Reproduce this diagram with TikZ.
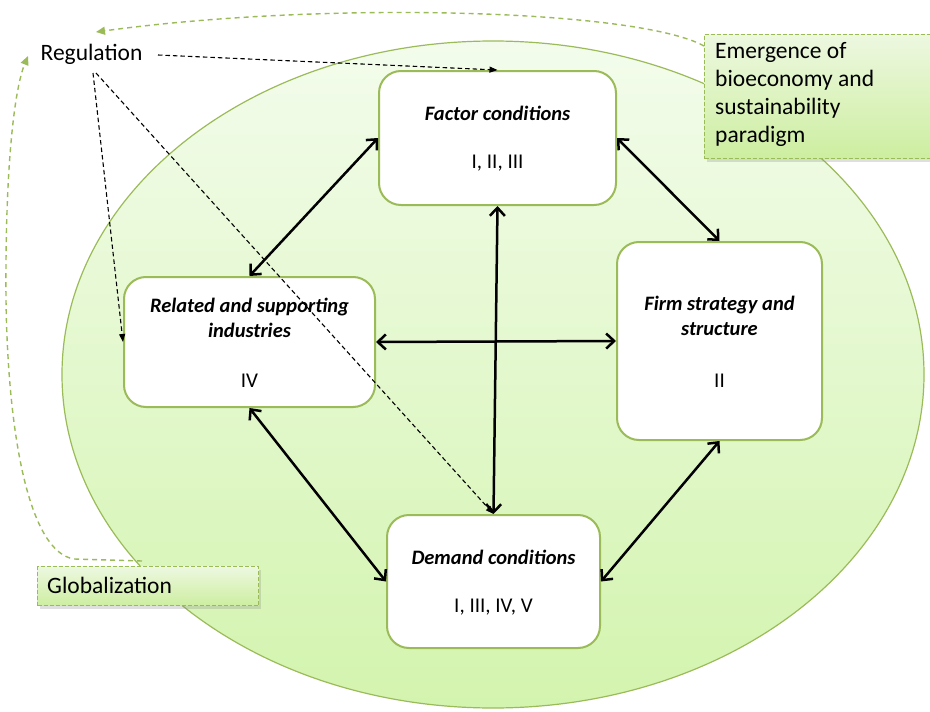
\documentclass[tikz,border=0pt]{standalone}
\usepackage{fontspec}
\setmainfont{Carlito}
\usetikzlibrary{arrows.meta,calc,shadows}
\definecolor{leaf}{HTML}{9BBB59}
\definecolor{palegreen}{HTML}{F3FCEC}
\definecolor{softgreen}{HTML}{D3F4AE}
\definecolor{notetop}{HTML}{EDF8E0}
\definecolor{notebot}{HTML}{CDEEA0}
\tikzset{
  factorbox/.style={draw=leaf, line width=2pt, fill=white, rounded corners=22pt, inner sep=0pt},
  boxtitle/.style={font=\fontsize{20.5}{25}\selectfont\bfseries\itshape, align=center, inner sep=0pt},
  boxnum/.style={font=\fontsize{21}{25}\selectfont, inner sep=0pt},
  notebox/.style={draw=leaf, line width=1pt, dash pattern=on 4pt off 2pt, top color=notetop, bottom color=notebot,
                  drop shadow={shadow xshift=2pt, shadow yshift=-3pt, opacity=0.25}},
  notetext/.style={font=\fontsize{23.5}{28}\selectfont, align=left, inner sep=0pt},
  link/.style={line width=2.5pt, {Straight Barb[length=8pt,width=15pt,line width=2.5pt]}-{Straight Barb[length=8pt,width=15pt,line width=2.5pt]}},
  rule/.style={line width=1.1pt, dash pattern=on 4.5pt off 3pt, -{Triangle[length=8pt,width=6pt]}},
  trend/.style={leaf, line width=1.4pt, dash pattern=on 5pt off 4pt, -{Triangle[length=9pt,width=8pt]}},
}
\begin{document}
\begin{tikzpicture}[x=1pt,y=-1pt]
\useasboundingbox (0,0) rectangle (930,712);
\clip (0,0) rectangle (930,712);

% outer field of influence
\path[draw=leaf, line width=1.2pt, top color=palegreen, bottom color=softgreen]
  (493,374.5) ellipse [x radius=431pt, y radius=333.5pt];

% the four determinants
\node[factorbox, minimum width=237pt, minimum height=134pt] (fac) at (497.5,138) {};
\node[factorbox, minimum width=251pt, minimum height=130pt] (rel) at (249.5,342) {};
\node[factorbox, minimum width=205pt, minimum height=198pt] (firm) at (719.5,341) {};
\node[factorbox, minimum width=213pt, minimum height=133pt] (dem) at (493.5,581.5) {};

\node[boxtitle] (facT) at (497.5,113) {Factor conditions};
\node[boxnum]   (facN) at (497.5,163) {I, II, III};
\node[boxtitle] (relT) at (249.5,318) {Related and supporting\\industries};
\node[boxnum]   (relN) at (249.5,381) {IV};
\node[boxtitle] (firmT) at (719.5,316) {Firm strategy and\\structure};
\node[boxnum]   (firmN) at (719.5,381) {II};
\node[boxtitle] (demT) at (493.5,557) {Demand conditions};
\node[boxnum]   (demN) at (493.5,607) {I, III, IV, V};

% mutual reinforcement between determinants
\draw[link] (fac.west) -- (rel.north);
\draw[link] (fac.east) -- (firm.north);
\draw[link] (fac.south) -- (dem.north);
\draw[link] (rel.east) -- (firm.west);
\draw[link] (rel.south) -- (dem.west);
\draw[link] (firm.south) -- (dem.east);

% external forces
\node[notebox, minimum width=240pt, minimum height=124pt, anchor=north west] (emg) at (704,34) {};
\node[notetext, anchor=north west] (emgT) at (715,42) {Emergence of\\bioeconomy and\\sustainability\\paradigm};
\node[notebox, minimum width=221pt, minimum height=39pt, anchor=north west] (glob) at (37,566) {};
\node[notetext, anchor=west] (globT) at (47,585.5) {Globalization};

\node[font=\fontsize{23.5}{28}\selectfont, inner sep=2pt] (reg) at (91.5,54) {Regulation};

% regulation acting on the diamond
\coordinate (regR) at (158,55);
\coordinate (regA) at (93,73);
\coordinate (regB) at (96,73);
\draw[rule] (regR) -- (fac.north);
\draw[rule] (regA) -- (rel.west);
\draw[rule] (regB) -- (dem.north);

% external forces shaping regulation
\coordinate (emgOut) at (704,46);
\coordinate (regTop) at (96,32);
\draw[trend] (emgOut) .. controls (640,10) and (330,0) .. (regTop);
\coordinate (globOut) at (142,561);
\coordinate (regLeft) at (28,56);
\draw[trend] (globOut) -- (74,559) .. controls (30,552) and (8,440) .. (6,300)
  .. controls (5,170) and (14,90) .. (regLeft);
\end{tikzpicture}
\end{document}
